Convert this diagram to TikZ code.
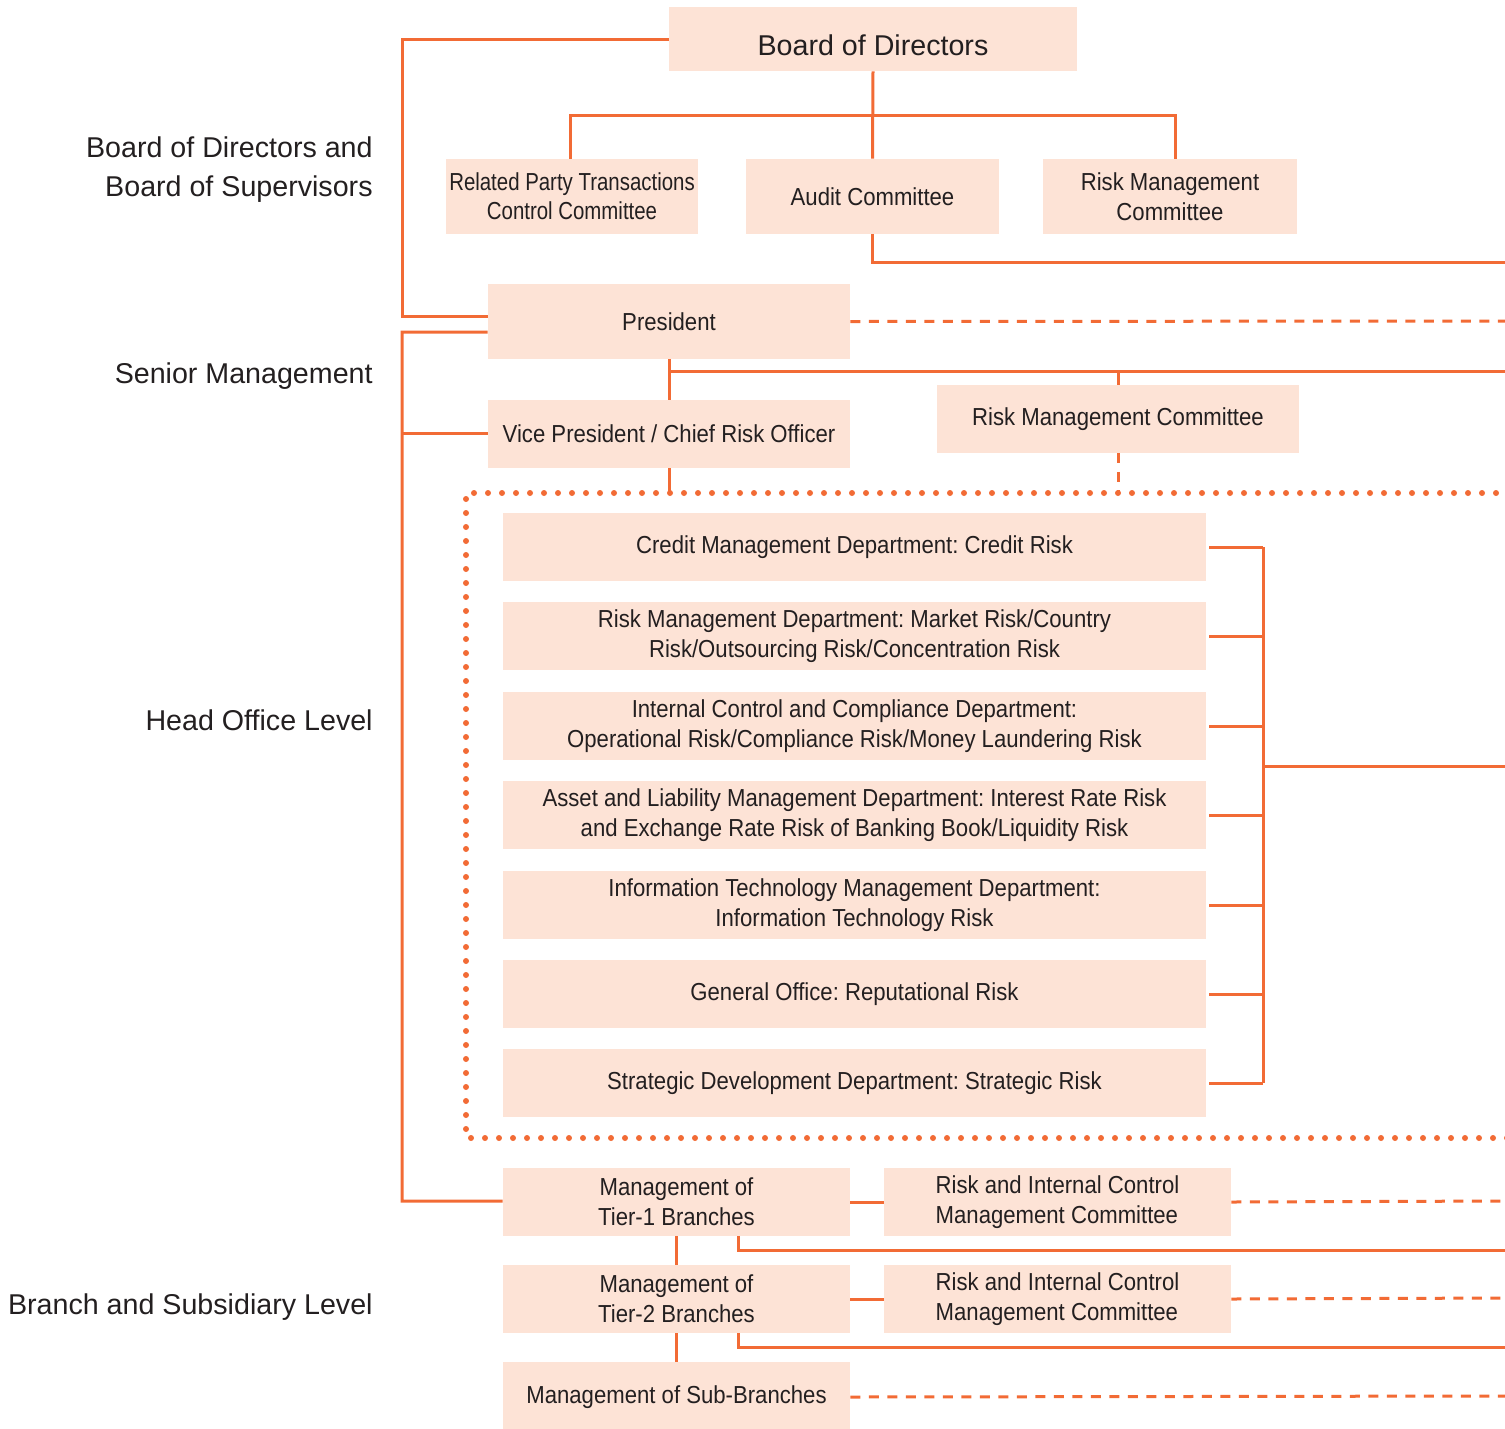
\documentclass[tikz,border=0pt]{standalone}
\usepackage{fontspec}
\setmainfont{Liberation Sans}
\newfontfamily\boxfont{Liberation Sans}[FakeStretch=0.9]
\newfontfamily\condfont{Liberation Sans}[FakeStretch=0.83]
\usetikzlibrary{calc}
\definecolor{ln}{HTML}{F26B35}
\definecolor{bx}{HTML}{FDE3D6}
\definecolor{tx}{HTML}{231F20}
\newdimen\pxu
\pxu=0.02cm
\frenchspacing
\tikzset{
  conn/.style={draw=ln, line width=3\pxu},
  dashline/.style={draw=ln, line width=3\pxu, dash pattern=on 10\pxu off 8.5\pxu},
  dotline/.style={draw=ln, line width=6\pxu, line cap=round, dash pattern=on 0pt off 14\pxu},
  orgbox/.style 2 args={fill=bx, draw=none, inner sep=0pt, text=tx, align=center,
    minimum width=#1\pxu, minimum height=#2\pxu,
    font=\boxfont\fontsize{14pt}{17pt}\selectfont},
  lvl/.style={anchor=east, align=right, text=tx, inner sep=0pt,
    font=\fontsize{16.3pt}{22.3pt}\selectfont}
}
\begin{document}
\begin{tikzpicture}[x=0.02cm, y=-0.02cm]
\useasboundingbox (0,0) rectangle (1505,1428);
\clip (0,0) rectangle (1505,1428);

% level labels
\node[lvl] (lab1) at (373,169.5) {Board of Directors and\\Board of Supervisors};
\node[lvl] (lab2) at (373,376) {Senior Management};
\node[lvl] (lab3) at (373,720) {Head Office Level};
\node[lvl] (lab4) at (373,1307) {Branch and Subsidiary Level};

% board level
\node[orgbox={408}{64}, font=\fontsize{16.3pt}{19pt}\selectfont] (bod) at (873,39) {\raisebox{-0.32cm}[0pt][0pt]{Board of Directors}};
\node[orgbox={252}{75}, font=\condfont\fontsize{14pt}{16.5pt}\selectfont] (rpt) at (572,196.5) {Related Party Transactions\\Control Committee};
\node[orgbox={253}{75}] (aud) at (872.5,196.5) {Audit Committee};
\node[orgbox={254}{75}] (rmb) at (1170,196.5) {Risk Management\\Committee};

% senior management
\node[orgbox={362}{75}] (pres) at (669,321.5) {President};
\node[orgbox={362}{68}] (vp) at (669,434) {Vice President / Chief Risk Officer};
\node[orgbox={362}{68}] (rmc) at (1118,419) {Risk Management Committee};

% head office departments
\node[orgbox={703}{68}] (d1) at (854.5,547) {Credit Management Department: Credit Risk};
\node[orgbox={703}{68}] (d2) at (854.5,636) {Risk Management Department: Market Risk/Country\\Risk/Outsourcing Risk/Concentration Risk};
\node[orgbox={703}{68}] (d3) at (854.5,726) {Internal Control and Compliance Department:\\Operational Risk/Compliance Risk/Money Laundering Risk};
\node[orgbox={703}{68}] (d4) at (854.5,815) {Asset and Liability Management Department: Interest Rate Risk\\and Exchange Rate Risk of Banking Book/Liquidity Risk};
\node[orgbox={703}{68}] (d5) at (854.5,905) {Information Technology Management Department:\\Information Technology Risk};
\node[orgbox={703}{68}] (d6) at (854.5,994) {General Office: Reputational Risk};
\node[orgbox={703}{68}] (d7) at (854.5,1083) {Strategic Development Department: Strategic Risk};

% branch level
\node[orgbox={347}{68}] (t1) at (676.5,1202) {Management of\\Tier-1 Branches};
\node[orgbox={347}{68}, align=left] (ric1) at (1057.5,1202) {Risk and Internal Control\\Management Committee};
\node[orgbox={347}{68}] (t2) at (676.5,1299) {Management of\\Tier-2 Branches};
\node[orgbox={347}{68}, align=left] (ric2) at (1057.5,1299) {Risk and Internal Control\\Management Committee};
\node[orgbox={347}{70}] (sub) at (676.5,1397) {Management of Sub-Branches};

% coordinates
\coordinate (jb) at (873,115);
\coordinate (eAud) at (1505,262);
\coordinate (lA) at (402,39);
\coordinate (lB) at (402,332);
\coordinate (lVP) at (402,433);
\coordinate (lT1) at (402,1201);
\coordinate (pj) at (669,371);
\coordinate (pjr) at (1118,371);
\coordinate (eP) at (1505,371);
\coordinate (ePd) at (1505,321);
\coordinate (vpd) at (669,493);
\coordinate (rmcd) at (1118,493);
\coordinate (fTR) at (1510,493);
\coordinate (fTL) at (466,493);
\coordinate (fBL) at (466,1138);
\coordinate (fBR) at (1510,1138);
\coordinate (br) at (1263,766);
\coordinate (eBr) at (1505,766);
\coordinate (eR1) at (1505,1201);
\coordinate (eT1) at (1505,1250);
\coordinate (eR2) at (1505,1298);
\coordinate (eT2) at (1505,1347);
\coordinate (eSub) at (1505,1396);

% board connectors
\draw[conn] (bod.south) -- (aud.north);
\draw[conn] ([xshift=-2\pxu]rpt.north) |- (jb) -| ([xshift=5\pxu]rmb.north);
\draw[conn] (aud.south) |- (eAud);
\draw[conn] (bod.west) -- (lA) |- ([yshift=5.5\pxu]pres.west);

% senior connectors
\draw[conn] ([yshift=-10.5\pxu]pres.west) -- (lB) -- (lT1) -- ([yshift=1\pxu]t1.west);
\draw[conn] (lVP) -- ([yshift=1\pxu]vp.west);
\draw[dashline] (pres.east) -- (ePd);
\draw[conn] (pres.south) -- (vp.north);
\draw[conn] (pj) -- (eP);
\draw[conn] (pjr) -- (rmc.north);
\draw[conn] (vp.south) -- (vpd);
\draw[dashline] (rmc.south) -- (rmcd);

% dotted head office frame
\draw[dotline] (fTR) -- (fTL) -- (fBL) -- (fBR);

% department bracket
\foreach \d in {d1,d2,d3,d4,d5,d6,d7}
  \draw[conn] ([xshift=3\pxu]\d.east) -- (\d.east -| br);
\draw[conn] (d1.east -| br) -- (d7.east -| br);
\draw[conn] (br) -- (eBr);

% branch connectors
\draw[conn] (t1.east) -- (ric1.west);
\draw[dashline] (ric1.east) -- (eR1);
\draw[conn] ([xshift=61.5\pxu]t1.south) |- (eT1);
\draw[conn] (t1.south) -- (t2.north);
\draw[conn] (t2.east) -- (ric2.west);
\draw[dashline] (ric2.east) -- (eR2);
\draw[conn] ([xshift=61.5\pxu]t2.south) |- (eT2);
\draw[conn] (t2.south) -- (sub.north);
\draw[dashline] (sub.east) -- (eSub);
\end{tikzpicture}
\end{document}
